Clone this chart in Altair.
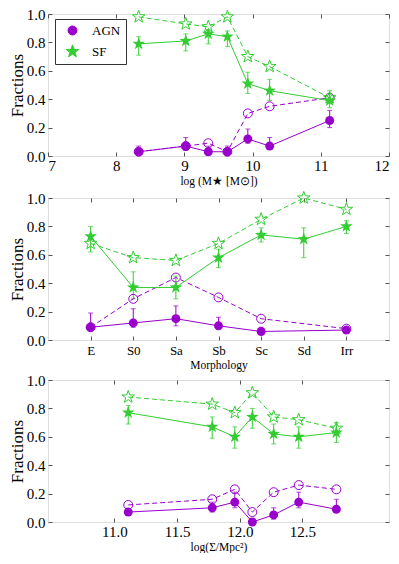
import math
import altair as alt
import pandas as pd

# ---------------- data ----------------
# Panel 1: stellar mass
mass_x = [8.33, 9.02, 9.35, 9.63, 9.93, 10.25, 11.13]
mass_agn = [0.03, 0.07, 0.03, 0.03, 0.12, 0.07, 0.25]
mass_agn_lo = [0.01, 0.04, 0.01, 0.01, 0.09, 0.05, 0.20]
mass_agn_hi = [0.07, 0.13, 0.07, 0.07, 0.19, 0.13, 0.32]
mass_agn_all = [0.03, 0.07, 0.09, 0.03, 0.30, 0.35, 0.41]
mass_sf = [0.79, 0.81, 0.86, 0.84, 0.51, 0.46, 0.39]
mass_sf_lo = [0.71, 0.74, 0.79, 0.77, 0.44, 0.39, 0.34]
mass_sf_hi = [0.84, 0.86, 0.89, 0.88, 0.59, 0.54, 0.46]
mass_sf_all = [0.98, 0.93, 0.91, 0.98, 0.70, 0.63, 0.41]

# Panel 2: morphology
morph_labels = ["E", "S0", "Sa", "Sb", "Sc", "Sd", "Irr"]
morph_x = [0, 1, 2, 3, 4, 5, 6]
morph_agn = [0.09, 0.12, 0.15, 0.10, 0.06, None, 0.07]
morph_agn_lo = [0.07, 0.09, 0.10, 0.08, 0.05, None, 0.06]
morph_agn_hi = [0.19, 0.22, 0.24, 0.16, 0.09, None, 0.09]
morph_agn_all = [0.09, 0.29, 0.44, 0.30, 0.15, None, 0.08]
morph_sf = [0.73, 0.37, 0.37, 0.58, 0.74, 0.71, 0.80]
morph_sf_lo = [0.62, 0.29, 0.29, 0.51, 0.69, 0.58, 0.75]
morph_sf_hi = [0.80, 0.48, 0.45, 0.64, 0.79, 0.79, 0.84]
morph_sf_all = [0.68, 0.58, 0.56, 0.68, 0.85, 1.00, 0.92]

# Panel 3: surface density
dens_x = [11.11, 11.78, 11.96, 12.10, 12.27, 12.47, 12.77]
dens_agn = [0.07, 0.10, 0.14, 0.00, 0.05, 0.14, 0.09]
dens_agn_lo = [0.06, 0.07, 0.10, 0.00, 0.02, 0.10, 0.07]
dens_agn_hi = [0.09, 0.14, 0.21, 0.02, 0.10, 0.21, 0.16]
dens_agn_all = [0.12, 0.16, 0.23, 0.07, 0.21, 0.26, 0.23]
dens_sf = [0.77, 0.67, 0.60, 0.74, 0.62, 0.60, 0.63]
dens_sf_lo = [0.69, 0.59, 0.52, 0.66, 0.55, 0.52, 0.56]
dens_sf_hi = [0.82, 0.74, 0.67, 0.80, 0.69, 0.67, 0.70]
dens_sf_all = [0.88, 0.83, 0.77, 0.91, 0.74, 0.72, 0.66]

y_ticks = [0.0, 0.2, 0.4, 0.6, 0.8, 1.0]

# ---------------- style ----------------
FONT = "Liberation Serif"
AGN_C = "#9900cc"
SF_C = "#33cc33"
AX_C = "#555555"
TYPES = ["AGN", "SF"]


def star_path(inner=0.4):
    pts = []
    for k in range(10):
        r = 1.0 if k % 2 == 0 else inner
        a = -math.pi / 2 + k * math.pi / 5
        pts.append(f"{r*math.cos(a):.3f},{r*math.sin(a):.3f}")
    return "M" + " L".join(pts) + " Z"


STAR = star_path()
color_scale = alt.Scale(domain=TYPES, range=[AGN_C, SF_C])
shape_scale = alt.Scale(domain=TYPES, range=["circle", STAR])
size_fill = alt.Scale(domain=TYPES, range=[64, 175])
size_open = alt.Scale(domain=TYPES, range=[80, 175])


def frames(x, agn, agn_lo, agn_hi, agn_all, sf, sf_lo, sf_hi, sf_all):
    rows_s, rows_d = [], []
    for i, xv in enumerate(x):
        if agn[i] is not None:
            rows_s.append(dict(x=xv, y=agn[i], lo=agn_lo[i], hi=agn_hi[i], type="AGN"))
        if agn_all[i] is not None:
            rows_d.append(dict(x=xv, y=agn_all[i], type="AGN"))
        rows_s.append(dict(x=xv, y=sf[i], lo=sf_lo[i], hi=sf_hi[i], type="SF"))
        rows_d.append(dict(x=xv, y=sf_all[i], type="SF"))
    return pd.DataFrame(rows_s), pd.DataFrame(rows_d)


def panel(dfs, dfd, xdomain, xticks, xtitle, xlabel_size, xformat=None,
          label_expr=None, legend=False, xlabel_pad=2):
    xs = alt.Scale(domain=xdomain, nice=False, zero=False)
    ys = alt.Scale(domain=[0, 1], nice=False)
    bx_kw = dict(orient="bottom", values=xticks, title=xtitle, offset=-4, tickSize=4,
                 domain=False, grid=False, labelPadding=xlabel_pad, labelFont=FONT,
                 labelFontSize=xlabel_size, titleFont=FONT, titleFontSize=11.5,
                 titleFontWeight="normal", titlePadding=2, labelColor="black",
                 titleColor="black", tickColor=AX_C)
    if xformat:
        bx_kw["format"] = xformat
    if label_expr:
        bx_kw["labelExpr"] = label_expr
    bottom = alt.Axis(**bx_kw)
    left = alt.Axis(orient="left", values=y_ticks, format=".1f", title="Fractions",
                    offset=-4, tickSize=4, domain=False, grid=False, labelPadding=3,
                    labelFont=FONT, labelFontSize=15, titleFont=FONT, titleFontSize=17,
                    titleFontWeight="normal", titlePadding=0, labelColor="black",
                    titleColor="black", tickColor=AX_C)
    top = alt.Axis(orient="top", values=xticks, labels=False, title=None, offset=-4,
                   tickSize=4, domain=False, grid=False, tickColor=AX_C)
    right = alt.Axis(orient="right", values=y_ticks, labels=False, title=None, offset=-4,
                     tickSize=4, domain=False, grid=False, tickColor=AX_C)

    if legend:
        lg = alt.Legend(title=None, orient="none", legendX=7, legendY=5,
                        fillColor="white", strokeColor="#333", padding=5,
                        labelFont=FONT, labelFontSize=13, labelColor="black",
                        symbolSize=110, symbolOffset=5, labelOffset=12,
                        rowPadding=4, symbolStrokeWidth=1, symbolOpacity=1)
    else:
        lg = None
    col = alt.Color("type:N", scale=color_scale, legend=lg)
    shp = alt.Shape("type:N", scale=shape_scale, legend=lg)

    err = alt.Chart(dfs).mark_errorbar(ticks=True, thickness=1).encode(
        x=alt.X("x:Q", scale=xs, axis=bottom),
        y=alt.Y("lo:Q", scale=ys, axis=left),
        y2="hi:Q",
        color=col,
    )
    dashed = alt.Chart(dfd).mark_line(strokeWidth=1, strokeDash=[5, 3]).encode(
        x=alt.X("x:Q", scale=xs, axis=top),
        y=alt.Y("y:Q", scale=ys, axis=right),
        color=col,
        order="x:Q",
    )
    solid = alt.Chart(dfs).mark_line(strokeWidth=1).encode(
        x=alt.X("x:Q", scale=xs, axis=None),
        y=alt.Y("y:Q", scale=ys, axis=None),
        color=col,
        order="x:Q",
    )
    opened = alt.Chart(dfd).mark_point(filled=False, strokeWidth=1, opacity=1).encode(
        x=alt.X("x:Q", scale=xs, axis=None),
        y=alt.Y("y:Q", scale=ys, axis=None),
        color=col,
        shape=shp,
        size=alt.Size("type:N", scale=size_open, legend=None),
    )
    filled = alt.Chart(dfs).mark_point(filled=True, opacity=1).encode(
        x=alt.X("x:Q", scale=xs, axis=None),
        y=alt.Y("y:Q", scale=ys, axis=None),
        color=col,
        shape=shp,
        size=alt.Size("type:N", scale=size_fill, legend=None),
    )
    return alt.layer(err, dashed, solid, opened, filled).resolve_axis(
        x="independent", y="independent"
    ).properties(width=341, height=142)


s1, d1 = frames(mass_x, mass_agn, mass_agn_lo, mass_agn_hi, mass_agn_all,
                mass_sf, mass_sf_lo, mass_sf_hi, mass_sf_all)
s2, d2 = frames(morph_x, morph_agn, morph_agn_lo, morph_agn_hi, morph_agn_all,
                morph_sf, morph_sf_lo, morph_sf_hi, morph_sf_all)
s3, d3 = frames(dens_x, dens_agn, dens_agn_lo, dens_agn_hi, dens_agn_all,
                dens_sf, dens_sf_lo, dens_sf_hi, dens_sf_all)

expr = "[" + ",".join(f"'{l}'" for l in morph_labels) + "][datum.value]"

p1 = panel(s1, d1, [7, 12], [7, 8, 9, 10, 11, 12], "log (M★ [M⊙])", 15,
           xformat="d", legend=True)
p2 = panel(s2, d2, [-1, 7], morph_x, "Morphology", 13, label_expr=expr, xlabel_pad=4)
p3 = panel(s3, d3, [10.47, 13.19], [11.0, 11.5, 12.0, 12.5], "log(Σ/Mpc²)", 15,
           xformat=".1f")

chart = alt.vconcat(p1, p2, p3, spacing=1).properties(
    padding={"left": -1, "top": -2, "right": 0, "bottom": 0}
).configure_view(stroke=AX_C, strokeWidth=1).configure(background="white")

chart.save("out.html", embed_options={"renderer": "svg", "actions": False})
